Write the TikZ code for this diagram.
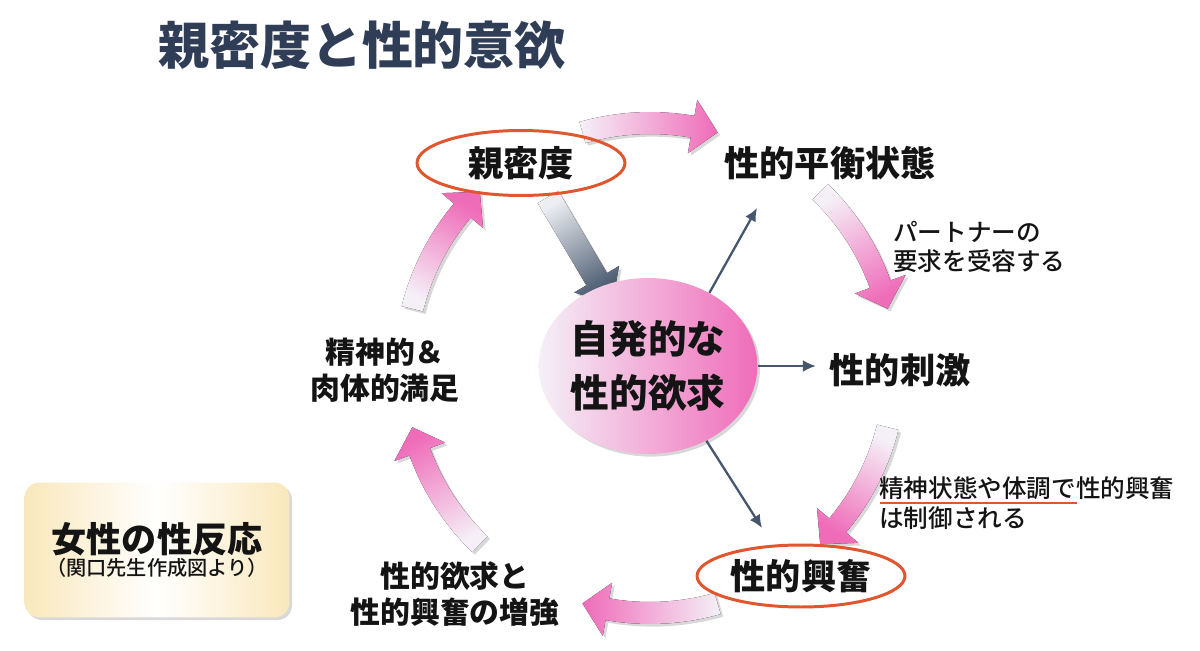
\documentclass[tikz,border=0pt]{standalone}
\usepackage{fontspec}
\setmainfont{Noto Sans CJK JP}
\newfontfamily\medium{Noto Sans CJK JP Medium}
\usepackage{tikz}
\usetikzlibrary{arrows.meta,positioning,calc,shapes.geometric,shadows}
\definecolor{ink}{HTML}{141414}
\definecolor{navy}{HTML}{2F3D56}
\definecolor{slate}{HTML}{46566C}
\definecolor{slatepale}{HTML}{ECEEF2}
\definecolor{pink}{HTML}{EF6CB9}
\definecolor{pinkpale}{HTML}{F5F0F7}
\definecolor{ovalred}{HTML}{E0562F}
\definecolor{cream}{HTML}{F9E8BC}
\tikzset{
  title/.style={font=\bfseries\fontsize{29}{34}\selectfont,text=navy},
  lbl/.style={font=\bfseries\fontsize{20}{24}\selectfont,text=ink,inner sep=2pt},
  oval/.style={lbl,ellipse,draw=ovalred,line width=1.7pt,minimum width=4.16cm,minimum height=1.3cm,inner sep=0pt},
  note/.style={font=\medium\fontsize{14}{17}\selectfont,text=ink,align=left,inner sep=0pt},
  midlbl/.style={font=\bfseries\fontsize{17}{20.5}\selectfont,text=ink,align=center},
  soft/.style={drop shadow={shadow xshift=1.5pt,shadow yshift=-1.5pt,opacity=0.3}},
  thinarr/.style={-{Latex[length=2.6mm,width=2.4mm]},line width=1.3pt,draw=slate},
  pinkarr/.style={top color=pinkpale,bottom color=pink,soft},
  grayarr/.style={top color=slatepale,bottom color=slate,shading angle=31,soft}
}
% curved arrow of the cycle, #1 = angle of its tail
\newcommand{\cyclearrow}[1]{%
  \pgfmathsetmacro{\tipang}{#1-32}%
  \pgfmathsetmacro{\baseang}{#1-26}%
  \pgfmathsetmacro{\midang}{#1-16}%
  \begin{scope}[shift={(cyc)}]
    \fill[pinkarr,shading angle=\midang]
      plot[domain=#1:\baseang,samples=12] (\x:256) -- (\baseang:272) -- (\tipang:245)
      -- (\baseang:218) -- (\baseang:234) -- plot[domain=\baseang:#1,samples=12] (\x:234) -- cycle;
  \end{scope}}

\begin{document}
\begin{tikzpicture}[x=0.02cm,y=0.02cm]
  \fill[white] (0,0) rectangle (1200,650);
  \useasboundingbox (0,0) rectangle (1200,650);
  \node[title] (ttl) at (362,605) {親密度と性的意欲};

  % the cycle
  \coordinate (cyc) at (650,282);
  \foreach \a in {106,46,-14,-74,-134,166} {\cyclearrow{\a}}

  % intimacy pushes the desire
  \coordinate (gT) at (548,453);
  \coordinate (gP) at (612,345);
  \coordinate (gB) at ($(gP)!0.6cm!(gT)$);
  \fill[grayarr] ($(gT)!0.24cm!90:(gP)$) -- ($(gB)!0.24cm!90:(gP)$) -- ($(gB)!0.52cm!90:(gP)$) -- (gP)
    -- ($(gB)!0.52cm!-90:(gP)$) -- ($(gB)!0.24cm!-90:(gP)$) -- ($(gT)!0.24cm!-90:(gP)$) -- cycle;

  \node[oval] (intim) at (521,487) {親密度};
  \node[lbl] (balance) at (830,487) {性的平衡状態};
  \node[note,anchor=west] (partner) at (893,403) {パートナーの\\要求を受容する};
  \node[lbl] (stim) at (900,280) {性的刺激};
  \node[note,anchor=west] (ctrl) at (879,147) {精神状態や体調で性的興奮\\は制御される};
  \draw[ovalred,line width=1.5pt] (880,147) -- (1077,147);
  \node[oval,minimum height=1.24cm] (arousal) at (801,74) {性的興奮};
  \node[midlbl] (boost) at (455,56) {性的欲求と\\性的興奮の増強};
  \node[midlbl] (satis) at (385,280) {精神的＆\\肉体的満足};

  \node[ellipse,left color=pinkpale,right color=pink,soft,minimum width=4.12cm,minimum height=3.52cm,
    inner sep=0pt,align=center,text=ink,font=\bfseries\fontsize{22}{31}\selectfont] (desire) at (648,284) {自発的な\\性的欲求};

  \coordinate (t1) at (757,442);
  \coordinate (t3) at (762,122);
  \draw[thinarr] (desire.50) -- (t1);
  \draw[thinarr,shorten >=0.2cm] (desire.east) -- (desire.east -| stim.west);
  \draw[thinarr] (desire.-52) -- (t3);

  \node[rounded corners=0.3cm,left color=cream,right color=cream,middle color=white,soft,
    minimum width=5.3cm,minimum height=2.7cm,align=center,text=ink] (react) at (157,100)
    {{\bfseries\fontsize{20}{24}\selectfont 女性の性反応}\\[1pt]{\medium\fontsize{11.5}{14}\selectfont （関口先生作成図より）}};
\end{tikzpicture}
\end{document}
